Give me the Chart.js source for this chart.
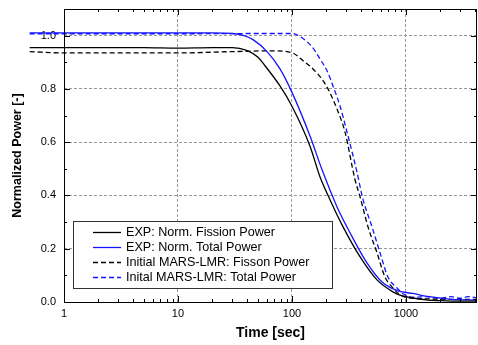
<!DOCTYPE html>
<html>
<head>
<meta charset="utf-8">
<script src="https://cdn.jsdelivr.net/npm/chart.js@4"></script>
<style>
  body { margin: 0; background: #fff; }
  canvas { display: block; }
</style>
</head>
<body>
<canvas id="power-chart" width="478" height="345"></canvas>
<script>
// Normalized power vs time
const expFissionTime = [0.5, 1, 5, 10, 20, 30, 40, 50, 58, 78.5, 100, 144, 176, 215, 280, 395, 557, 769, 885, 1150, 1500, 2000, 3000, 4200];
const expFissionPower = [0.955, 0.955, 0.955, 0.953, 0.955, 0.955, 0.945, 0.92, 0.887, 0.811, 0.735, 0.585, 0.47, 0.385, 0.283, 0.17, 0.083, 0.038, 0.026, 0.015, 0.008, 0.005, 0.003, 0.003];

const expTotalTime = [0.5, 1, 10, 20, 30, 38, 45.5, 60.4, 78.5, 100, 144, 183, 248, 323, 455, 628, 851, 1150, 1600, 2500, 4200];
const expTotalPower = [1.01, 1.01, 1.01, 1.01, 1.008, 1.0, 0.985, 0.94, 0.875, 0.787, 0.623, 0.498, 0.358, 0.26, 0.147, 0.072, 0.042, 0.032, 0.02, 0.01, 0.007];

const marsFissionTime = [0.5, 1, 10, 30, 68, 100, 125, 153, 183, 207, 248, 292, 357, 395, 464, 557, 654, 769, 900, 1100, 1500, 2500, 4200];
const marsFissionPower = [0.94, 0.935, 0.935, 0.94, 0.943, 0.936, 0.906, 0.875, 0.837, 0.8, 0.725, 0.638, 0.46, 0.396, 0.283, 0.185, 0.094, 0.053, 0.025, 0.015, 0.012, 0.01, 0.01];

const marsTotalTime = [0.5, 1, 10, 50, 100, 125, 150, 176, 203, 229, 264, 304, 372, 420, 503, 592, 695, 833, 950, 1200, 1500, 2000, 2500, 3000, 3500, 4200];
const marsTotalPower = [1.007, 1.007, 1.007, 1.008, 1.008, 0.989, 0.958, 0.913, 0.868, 0.811, 0.736, 0.638, 0.487, 0.385, 0.283, 0.185, 0.094, 0.053, 0.03, 0.018, 0.02, 0.014, 0.02, 0.014, 0.02, 0.015];

const seriesLabels = ['EXP: Norm. Fission Power', 'EXP: Norm. Total Power', 'Initial MARS-LMR: Fisson Power', 'Inital MARS-LMR: Total Power'];
const xTickValues = [1, 10, 100, 1000];
const yTickValues = [0, 0.2, 0.4, 0.6, 0.8, 1.0];

const FONT = "'Liberation Sans', Arial, sans-serif";
const BLUE = '#1414ff';

function toPoints(times, values) {
    return times.map((t, i) => ({ x: t, y: values[i] }));
}

function makeSet(label, times, values, color, dashed) {
    return {
        label: label,
        data: toPoints(times, values),
        borderColor: color,
        borderWidth: 1.3,
        borderDash: dashed ? [5, 3] : [],
        pointRadius: 0,
        cubicInterpolationMode: 'monotone',
        clip: false
    };
}

// Inward ticks on all four sides, the frame, and the boxed legend
const frameTicks = {
    id: 'frameTicks',
    afterDatasetsDraw(chart) {
        const { ctx, chartArea: a, scales: { x, y } } = chart;
        ctx.save();
        ctx.strokeStyle = '#000';
        ctx.lineWidth = 1;
        ctx.beginPath();
        for (let d = 1; d <= 1000; d *= 10) {
            for (let m = 1; m <= 9; m++) {
                const v = d * m;
                if (v > x.max) break;
                const px = Math.round(x.getPixelForValue(v)) + 0.5;
                const len = m === 1 ? 6 : 3;
                ctx.moveTo(px, a.bottom); ctx.lineTo(px, a.bottom - len);
                ctx.moveTo(px, a.top); ctx.lineTo(px, a.top + len);
            }
        }
        for (let k = 0; k <= 10; k++) {
            const py = Math.round(y.getPixelForValue(k / 10)) + 0.5;
            const len = k % 2 === 0 ? 6 : 3;
            ctx.moveTo(a.left, py); ctx.lineTo(a.left + len, py);
            ctx.moveTo(a.right, py); ctx.lineTo(a.right - len, py);
        }
        ctx.stroke();
        ctx.strokeRect(Math.round(a.left) + 0.5, Math.round(a.top) + 0.5,
            Math.round(a.right - a.left) - 1, Math.round(a.bottom - a.top));
        ctx.restore();
    },
    afterDraw(chart) {
        const { ctx } = chart;
        const bx = 73, by = 221, bw = 259, bh = 67;
        ctx.save();
        ctx.fillStyle = '#fff';
        ctx.fillRect(bx, by, bw, bh);
        ctx.strokeStyle = '#333';
        ctx.lineWidth = 1;
        ctx.strokeRect(bx + 0.5, by + 0.5, bw, bh);
        ctx.font = '12.6px ' + FONT;
        ctx.textBaseline = 'middle';
        chart.data.datasets.forEach((ds, i) => {
            const ry = by + 11.5 + i * 15;
            ctx.strokeStyle = ds.borderColor;
            ctx.lineWidth = 1.3;
            ctx.setLineDash(ds.borderDash);
            ctx.beginPath();
            ctx.moveTo(93, ry); ctx.lineTo(121, ry);
            ctx.stroke();
            ctx.setLineDash([]);
            ctx.fillStyle = '#000';
            ctx.fillText(ds.label, 126, ry + 0.5);
        });
        ctx.restore();
    }
};

const ctx = document.getElementById('power-chart').getContext('2d');
new Chart(ctx, {
    type: 'line',
    data: {
        datasets: [
            makeSet(seriesLabels[0], expFissionTime, expFissionPower, '#000', false),
            makeSet(seriesLabels[1], expTotalTime, expTotalPower, BLUE, false),
            makeSet(seriesLabels[2], marsFissionTime, marsFissionPower, '#000', true),
            makeSet(seriesLabels[3], marsTotalTime, marsTotalPower, BLUE, true)
        ]
    },
    options: {
        responsive: false,
        animation: false,
        layout: { padding: { top: 9, right: 1, left: 0, bottom: 0 } },
        plugins: {
            legend: { display: false },
            tooltip: { enabled: false }
        },
        scales: {
            x: {
                type: 'logarithmic',
                min: 1,
                max: 4200,
                afterBuildTicks: (scale) => { scale.ticks = xTickValues.map(v => ({ value: v })); },
                afterFit: (scale) => {
                    scale.height = 43;
                    scale.paddingLeft = 0;
                    scale.paddingRight = 0;
                },
                grid: { color: '#999', drawTicks: false },
                border: { display: false, dash: [3, 2] },
                ticks: {
                    autoSkip: false,
                    maxRotation: 0,
                    padding: 5,
                    color: '#000',
                    font: { family: FONT, size: 11 },
                    callback: (v) => String(v)
                },
                title: {
                    display: true,
                    text: 'Time [sec]',
                    color: '#000',
                    padding: { top: 0, bottom: 3 },
                    font: { family: FONT, size: 14, weight: 'bold' }
                }
            },
            y: {
                min: 0,
                max: 1.1,
                afterBuildTicks: (scale) => { scale.ticks = yTickValues.map(v => ({ value: v })); },
                afterFit: (scale) => {
                    scale.width = 64;
                    scale.paddingTop = 0;
                    scale.paddingBottom = 0;
                },
                grid: { color: '#999', drawTicks: false },
                border: { display: false, dash: [3, 2] },
                ticks: {
                    padding: 8,
                    color: '#000',
                    font: { family: FONT, size: 11 },
                    callback: (v) => v.toFixed(1)
                },
                title: {
                    display: true,
                    text: 'Normalized Power [-]',
                    color: '#000',
                    padding: { top: 10, bottom: 0 },
                    font: { family: FONT, size: 12.5, weight: 'bold' }
                }
            }
        }
    },
    plugins: [frameTicks]
});
</script>
</body>
</html>
